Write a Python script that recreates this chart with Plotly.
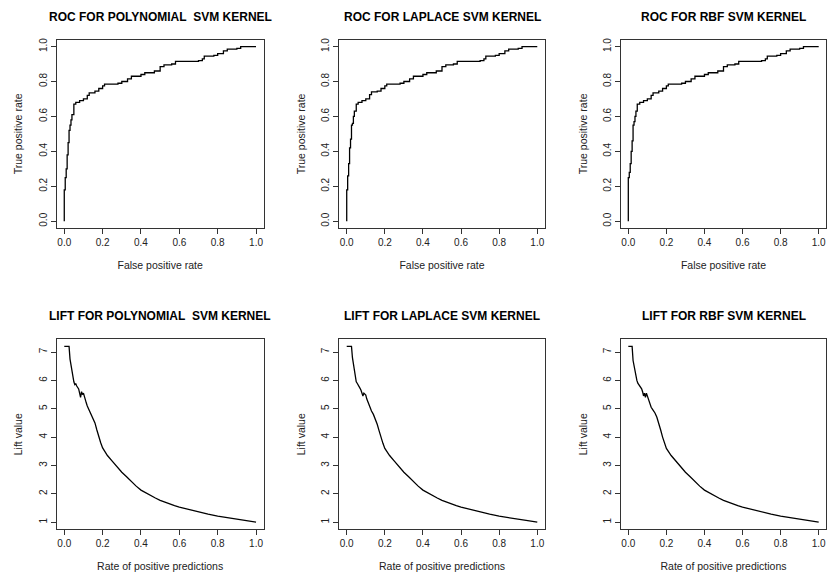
import plotly.graph_objects as go

# ---------------- data ----------------
roc_titles = ["ROC FOR POLYNOMIAL  SVM KERNEL", "ROC FOR LAPLACE SVM KERNEL", "ROC FOR RBF SVM KERNEL"]
lift_titles = ["LIFT FOR POLYNOMIAL  SVM KERNEL", "LIFT FOR LAPLACE SVM KERNEL", "LIFT FOR RBF SVM KERNEL"]

roc_fpr_poly = [0.0, 0.0, 0.005, 0.01, 0.015, 0.02, 0.025, 0.03, 0.035, 0.04, 0.05, 0.06, 0.08, 0.10, 0.12, 0.13, 0.16, 0.18,
                0.20, 0.21, 0.28, 0.30, 0.33, 0.35, 0.40, 0.42, 0.47, 0.50, 0.52, 0.56, 0.58, 0.70, 0.72, 0.73, 0.78, 0.80,
                0.83, 0.85, 0.90, 0.92, 1.0]
roc_tpr_poly = [0.0, 0.18, 0.25, 0.30, 0.38, 0.45, 0.52, 0.55, 0.58, 0.61, 0.67, 0.68, 0.69, 0.70, 0.72, 0.735, 0.745, 0.76,
                0.775, 0.785, 0.79, 0.80, 0.815, 0.83, 0.84, 0.85, 0.86, 0.885, 0.895, 0.90, 0.915, 0.92, 0.93, 0.945,
                0.95, 0.96, 0.975, 0.985, 0.99, 1.0, 1.0]

roc_fpr_lap = [0.0, 0.0, 0.005, 0.01, 0.015, 0.02, 0.025, 0.03, 0.035, 0.04, 0.05, 0.06, 0.08, 0.10, 0.12, 0.13, 0.16, 0.18,
               0.20, 0.21, 0.28, 0.30, 0.33, 0.35, 0.40, 0.42, 0.47, 0.50, 0.52, 0.56, 0.58, 0.70, 0.72, 0.73, 0.78, 0.80,
               0.83, 0.85, 0.90, 0.92, 1.0]
roc_tpr_lap = [0.0, 0.18, 0.26, 0.33, 0.42, 0.47, 0.55, 0.56, 0.60, 0.63, 0.67, 0.68, 0.69, 0.70, 0.725, 0.74, 0.745, 0.76,
               0.775, 0.785, 0.79, 0.80, 0.815, 0.83, 0.84, 0.85, 0.86, 0.885, 0.895, 0.90, 0.915, 0.92, 0.93, 0.945,
               0.95, 0.96, 0.975, 0.985, 0.99, 1.0, 1.0]

roc_fpr_rbf = [0.0, 0.0, 0.005, 0.01, 0.015, 0.02, 0.025, 0.03, 0.035, 0.04, 0.047, 0.06, 0.08, 0.10, 0.12, 0.13, 0.16, 0.18,
               0.20, 0.21, 0.28, 0.30, 0.33, 0.35, 0.40, 0.42, 0.47, 0.50, 0.52, 0.56, 0.58, 0.70, 0.72, 0.73, 0.78, 0.80,
               0.83, 0.85, 0.90, 0.92, 1.0]
roc_tpr_rbf = [0.0, 0.25, 0.28, 0.33, 0.40, 0.46, 0.55, 0.57, 0.60, 0.63, 0.67, 0.68, 0.69, 0.70, 0.72, 0.735, 0.745, 0.76,
               0.775, 0.785, 0.79, 0.80, 0.815, 0.83, 0.84, 0.85, 0.86, 0.885, 0.895, 0.90, 0.915, 0.92, 0.93, 0.945,
               0.95, 0.96, 0.975, 0.985, 0.99, 1.0, 1.0]

lift_rpp_poly = [0.0, 0.025, 0.03, 0.035, 0.04, 0.045, 0.05, 0.055, 0.06, 0.065, 0.07, 0.075, 0.08, 0.085, 0.09, 0.095,
                 0.10, 0.105, 0.11, 0.115, 0.12, 0.13, 0.14, 0.15, 0.16, 0.17, 0.18, 0.19, 0.20, 0.225, 0.25, 0.275,
                 0.30, 0.325, 0.35, 0.375, 0.40, 0.425, 0.45, 0.475, 0.50, 0.525, 0.55, 0.575, 0.60, 0.65, 0.70,
                 0.75, 0.80, 0.85, 0.90, 0.95, 1.0]
lift_val_poly = [7.2, 7.2, 6.75, 6.55, 6.3, 6.05, 5.95, 5.85, 5.88, 5.8, 5.75, 5.7, 5.55, 5.4, 5.6, 5.5,
                 5.55, 5.4, 5.3, 5.2, 5.1, 4.95, 4.85, 4.7, 4.5, 4.25, 4.0, 3.8, 3.62, 3.35, 3.15, 2.95,
                 2.76, 2.6, 2.42, 2.27, 2.13, 2.03, 1.94, 1.85, 1.77, 1.70, 1.64, 1.58, 1.53, 1.44, 1.36,
                 1.28, 1.21, 1.15, 1.10, 1.05, 1.0]

lift_rpp_lap = lift_rpp_poly
lift_val_lap = [7.2, 7.2, 6.8, 6.6, 6.35, 6.1, 5.95, 5.9, 5.85, 5.8, 5.72, 5.65, 5.55, 5.45, 5.55, 5.5,
                5.48, 5.35, 5.25, 5.15, 5.05, 4.92, 4.8, 4.65, 4.45, 4.22, 3.98, 3.78, 3.6, 3.35, 3.15, 2.95,
                2.76, 2.6, 2.42, 2.27, 2.13, 2.03, 1.94, 1.85, 1.77, 1.70, 1.64, 1.58, 1.53, 1.44, 1.36,
                1.28, 1.21, 1.15, 1.10, 1.05, 1.0]

lift_rpp_rbf = [0.0, 0.02, 0.025, 0.03, 0.035, 0.04, 0.045, 0.05, 0.055, 0.06, 0.065, 0.07, 0.075, 0.08, 0.085, 0.09,
                0.095, 0.10, 0.105, 0.11, 0.12, 0.13, 0.14, 0.15, 0.16, 0.17, 0.18, 0.19, 0.20, 0.225, 0.25, 0.275,
                0.30, 0.325, 0.35, 0.375, 0.40, 0.425, 0.45, 0.475, 0.50, 0.525, 0.55, 0.575, 0.60, 0.65, 0.70,
                0.75, 0.80, 0.85, 0.90, 0.95, 1.0]
lift_val_rbf = [7.2, 7.2, 6.7, 6.5, 6.3, 6.1, 6.0, 5.9, 5.85, 5.8, 5.75, 5.7, 5.6, 5.45, 5.55, 5.4,
                5.55, 5.45, 5.3, 5.2, 5.05, 4.95, 4.85, 4.7, 4.5, 4.25, 4.0, 3.8, 3.6, 3.35, 3.15, 2.95,
                2.76, 2.6, 2.42, 2.27, 2.13, 2.03, 1.94, 1.85, 1.77, 1.70, 1.64, 1.58, 1.53, 1.44, 1.36,
                1.28, 1.21, 1.15, 1.10, 1.05, 1.0]

x_ticks = [0.0, 0.2, 0.4, 0.6, 0.8, 1.0]
roc_y_ticks = [0.0, 0.2, 0.4, 0.6, 0.8, 1.0]
lift_y_ticks = [1, 2, 3, 4, 5, 6, 7]

# ---------------- layout geometry (pixels) ----------------
W, H = 827, 579
col_px = [(56.6, 263.7), (339.1, 544.9), (620.7, 826.3)]
row_px = [(37.7, 227.0), (338.5, 529.0)]
title_y_px = [15, 315]

FONT = "Liberation Sans, Arial, sans-serif"
LINE = "#333333"
TXT = "#222222"


def r_range(vals):
    lo, hi = min(vals), max(vals)
    ext = 0.04 * (hi - lo)
    return [lo - ext, hi + ext]


panels = [
    (0, 0, roc_fpr_poly, roc_tpr_poly, roc_titles[0], "False positive rate", "True positive rate", roc_y_ticks, "hv"),
    (0, 1, roc_fpr_lap, roc_tpr_lap, roc_titles[1], "False positive rate", "True positive rate", roc_y_ticks, "hv"),
    (0, 2, roc_fpr_rbf, roc_tpr_rbf, roc_titles[2], "False positive rate", "True positive rate", roc_y_ticks, "hv"),
    (1, 0, lift_rpp_poly, lift_val_poly, lift_titles[0], "Rate of positive predictions", "Lift value", lift_y_ticks, "linear"),
    (1, 1, lift_rpp_lap, lift_val_lap, lift_titles[1], "Rate of positive predictions", "Lift value", lift_y_ticks, "linear"),
    (1, 2, lift_rpp_rbf, lift_val_rbf, lift_titles[2], "Rate of positive predictions", "Lift value", lift_y_ticks, "linear"),
]

fig = go.Figure()
annotations = []
layout_axes = {}

for i, (r, c, xs, ys, title, xlab, ylab, yticks, shape) in enumerate(panels):
    n = "" if i == 0 else str(i + 1)
    xa, ya = "x" + n, "y" + n
    x0, x1 = col_px[c]
    t, b = row_px[r]
    xdom = [x0 / W, x1 / W]
    ydom = [1 - b / H, 1 - t / H]

    fig.add_trace(go.Scatter(x=xs, y=ys, mode="lines", line=dict(color="black", width=1.3, shape=shape),
                             xaxis=xa, yaxis=ya, showlegend=False, hoverinfo="skip"))

    if r == 0:
        yrange = r_range([0.0, 1.0])
        yfmt = ".1f"
    else:
        yrange = r_range(ys)
        yfmt = "d"

    common = dict(showgrid=False, zeroline=False, showline=True, mirror=True, linecolor=LINE, linewidth=1,
                  ticks="outside", ticklen=5, tickwidth=1, tickcolor=LINE,
                  tickfont=dict(family=FONT, size=10, color=TXT))
    layout_axes["xaxis" + n] = dict(domain=xdom, anchor=ya, range=r_range([0.0, 1.0]), tickvals=x_ticks,
                                    tickformat=".1f",
                                    title=dict(text=xlab, font=dict(family=FONT, size=10.5, color=TXT), standoff=14),
                                    **common)
    layout_axes["yaxis" + n] = dict(domain=ydom, anchor=xa, range=yrange, tickvals=yticks, tickformat=yfmt,
                                    tickangle=-90,
                                    title=dict(text=ylab, font=dict(family=FONT, size=10.5, color=TXT), standoff=12),
                                    **common)

    annotations.append(dict(text=title.replace("  ", "&nbsp; "), x=(x0 + x1) / 2 / W, y=1 - title_y_px[r] / H,
                            xref="paper", yref="paper",
                            xanchor="center", yanchor="middle", showarrow=False,
                            font=dict(family=FONT, size=12, color="black", weight="bold")))

fig.update_layout(width=W, height=H, margin=dict(l=0, r=0, t=0, b=0), paper_bgcolor="white",
                  plot_bgcolor="white", annotations=annotations, **layout_axes)

fig.write_html("out.html")
